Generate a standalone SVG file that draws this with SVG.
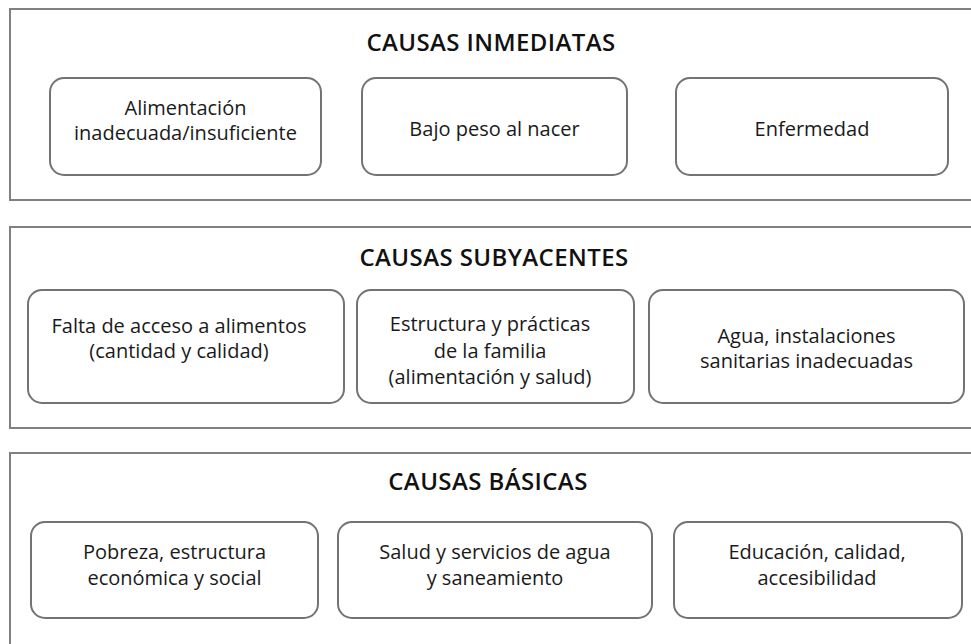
<svg xmlns="http://www.w3.org/2000/svg" width="971" height="644" viewBox="0 0 971 644">
<style>
.panel{fill:#fff;stroke:#808080;stroke-width:2}
.box{fill:#fff;stroke:#737373;stroke-width:2}
.t{font-family:"Open Sans","DejaVu Sans",sans-serif;font-size:20px;fill:#1a1a1a;text-anchor:middle}
.h{font-family:"Open Sans","DejaVu Sans",sans-serif;font-size:24px;font-weight:600;letter-spacing:0.4px;fill:#111;text-anchor:middle}
</style>
<rect width="971" height="644" fill="#fff"/>
<g id="panel-inmediatas">
<rect class="panel" x="10" y="9" width="975" height="191"/>
<text class="h" x="491" y="51">CAUSAS INMEDIATAS</text>
</g>
<g id="n-alimentacion"><rect class="box" x="50" y="78" width="271" height="97" rx="14"/>
<text class="t" x="185.5" y="115">Alimentación</text><text class="t" x="185.5" y="140">inadecuada/insuficiente</text></g>
<g id="n-bajopeso"><rect class="box" x="362" y="78" width="265" height="97" rx="14"/>
<text class="t" x="494.5" y="136">Bajo peso al nacer</text></g>
<g id="n-enfermedad"><rect class="box" x="676" y="78" width="272" height="97" rx="14"/>
<text class="t" x="812" y="136">Enfermedad</text></g>

<g id="panel-subyacentes">
<rect class="panel" x="10" y="227" width="975" height="201"/>
<text class="h" x="494" y="266">CAUSAS SUBYACENTES</text>
</g>
<g id="n-acceso"><rect class="box" x="28" y="290" width="316" height="113" rx="14"/>
<text class="t" x="179" y="333">Falta de acceso a alimentos</text><text class="t" x="179" y="358">(cantidad y calidad)</text></g>
<g id="n-familia"><rect class="box" x="357" y="290" width="277" height="113" rx="14"/>
<text class="t" x="490" y="331">Estructura y prácticas</text><text class="t" x="490" y="357.5">de la familia</text><text class="t" x="490" y="384">(alimentación y salud)</text></g>
<g id="n-agua"><rect class="box" x="649" y="290" width="315" height="113" rx="14"/>
<text class="t" x="806.5" y="343">Agua, instalaciones</text><text class="t" x="806.5" y="368">sanitarias inadecuadas</text></g>

<g id="panel-basicas">
<rect class="panel" x="10" y="453" width="975" height="200"/>
<text class="h" x="488" y="490">CAUSAS BÁSICAS</text>
</g>
<g id="n-pobreza"><rect class="box" x="31" y="522" width="287" height="96" rx="14"/>
<text class="t" x="174.5" y="559">Pobreza, estructura</text><text class="t" x="174.5" y="585">económica y social</text></g>
<g id="n-salud"><rect class="box" x="338" y="522" width="314" height="96" rx="14"/>
<text class="t" x="495" y="559">Salud y servicios de agua</text><text class="t" x="495" y="585">y saneamiento</text></g>
<g id="n-educacion"><rect class="box" x="674" y="522" width="288" height="96" rx="14"/>
<text class="t" x="817" y="559">Educación, calidad,</text><text class="t" x="817" y="585">accesibilidad</text></g>
<g id="connectors"></g>
</svg>
